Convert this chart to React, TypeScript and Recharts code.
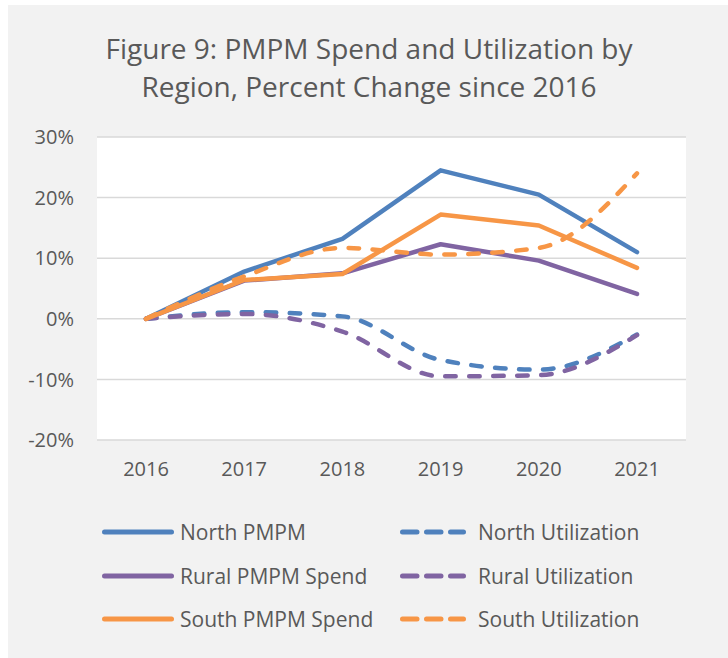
import React from 'react';
import { LineChart, Line, XAxis, YAxis, CartesianGrid } from 'recharts';

// values are percent change since 2016
const YEARS = ['2016', '2017', '2018', '2019', '2020', '2021'];
const NORTH_PMPM = [0, 7.8, 13.2, 24.5, 20.5, 11.0];
const NORTH_UTIL = [0, 1.1, 0.4, -6.8, -8.4, -2.6];
const RURAL_PMPM = [0, 6.3, 7.5, 12.3, 9.6, 4.1];
const RURAL_UTIL = [0, 0.8, -2.1, -9.5, -9.3, -2.7];
const SOUTH_PMPM = [0, 6.4, 7.4, 17.2, 15.4, 8.4];
const SOUTH_UTIL = [0, 7.0, 11.7, 10.6, 11.7, 24.0];
const Y_TICKS = [-0.2, -0.1, 0, 0.1, 0.2, 0.3];

const BLUE = '#4f81bd';
const PURPLE = '#8064a2';
const ORANGE = '#f79646';
const TEXT = '#595959';
const FONT = "'Open Sans', sans-serif";

const SERIES = [
  { key: 'northPmpm', name: 'North PMPM', color: BLUE, dashed: false, values: NORTH_PMPM },
  { key: 'northUtil', name: 'North Utilization', color: BLUE, dashed: true, values: NORTH_UTIL },
  { key: 'ruralPmpm', name: 'Rural PMPM Spend', color: PURPLE, dashed: false, values: RURAL_PMPM },
  { key: 'ruralUtil', name: 'Rural Utilization', color: PURPLE, dashed: true, values: RURAL_UTIL },
  { key: 'southPmpm', name: 'South PMPM Spend', color: ORANGE, dashed: false, values: SOUTH_PMPM },
  { key: 'southUtil', name: 'South Utilization', color: ORANGE, dashed: true, values: SOUTH_UTIL },
];

const chartData = YEARS.map((year, i) => {
  const row: Record<string, number | string> = { year };
  SERIES.forEach((s) => {
    row[s.key] = s.values[i] / 100;
  });
  return row;
});

const pct = (v: number) => `${Math.round(v * 100)}%`;

const LegendBlock = () => (
  <div style={{ position: 'absolute', left: 94, top: 505, width: 600 }}>
    {SERIES.map((s, i) => {
      const col = i % 2;
      const row = Math.floor(i / 2);
      return (
        <div
          key={s.key}
          style={{
            position: 'absolute',
            left: col === 0 ? 0 : 298,
            top: row * 43.5,
            height: 44,
            display: 'flex',
            alignItems: 'center',
            whiteSpace: 'nowrap',
          }}
        >
          <svg width={col === 0 ? 72 : 66} height={10} style={{ display: 'block' }}>
            <line
              x1={2.5}
              y1={5}
              x2={col === 0 ? 69.5 : 63.5}
              y2={5}
              stroke={s.color}
              strokeWidth={5}
              strokeLinecap="round"
              strokeDasharray={s.dashed ? '14.5 9.5' : undefined}
            />
          </svg>
          <span style={{ marginLeft: col === 0 ? 6 : 12, fontSize: 21, color: TEXT, fontFamily: FONT }}>
            {s.name}
          </span>
        </div>
      );
    })}
  </div>
);

export default function App() {
  return (
    <div
      style={{
        position: 'absolute',
        left: 8,
        top: 5,
        width: 720,
        height: 653,
        background: '#f2f2f2',
        fontFamily: FONT,
      }}
    >
      <div
        style={{
          position: 'absolute',
          left: 0,
          top: 24,
          width: 722,
          textAlign: 'center',
          fontSize: 28,
          lineHeight: '38px',
          color: TEXT,
        }}
      >
        Figure 9: PMPM Spend and Utilization by
        <br />
        Region, Percent Change since 2016
      </div>
      <div style={{ position: 'absolute', left: 0, top: 0 }}>
        <LineChart
          width={720}
          height={653}
          data={chartData}
          margin={{ top: 132, right: 42, bottom: 178, left: 0 }}
        >
          <CartesianGrid vertical={false} stroke="#d9d9d9" strokeWidth={1.5} fill="#ffffff" />
          <XAxis
            dataKey="year"
            axisLine={false}
            tickLine={false}
            tickSize={0}
            tickMargin={22}
            height={40}
            padding={{ left: 49, right: 49 }}
            tick={{ fill: TEXT, fontSize: 20, fontFamily: FONT }}
          />
          <YAxis
            domain={[-0.2, 0.3]}
            ticks={Y_TICKS}
            axisLine={false}
            tickLine={false}
            tickSize={0}
            tickMargin={23}
            width={89}
            tickFormatter={pct}
            tick={{ fill: TEXT, fontSize: 20, fontFamily: FONT }}
          />
          {SERIES.map((s) => (
            <Line
              key={s.key}
              dataKey={s.key}
              name={s.name}
              type={s.dashed ? 'monotone' : 'linear'}
              stroke={s.color}
              strokeWidth={4.5}
              strokeLinecap="round"
              strokeLinejoin="round"
              strokeDasharray={s.dashed ? '10.5 13.5' : undefined}
              dot={false}
              activeDot={false}
              isAnimationActive={false}
            />
          ))}
        </LineChart>
      </div>
      <LegendBlock />
    </div>
  );
}
